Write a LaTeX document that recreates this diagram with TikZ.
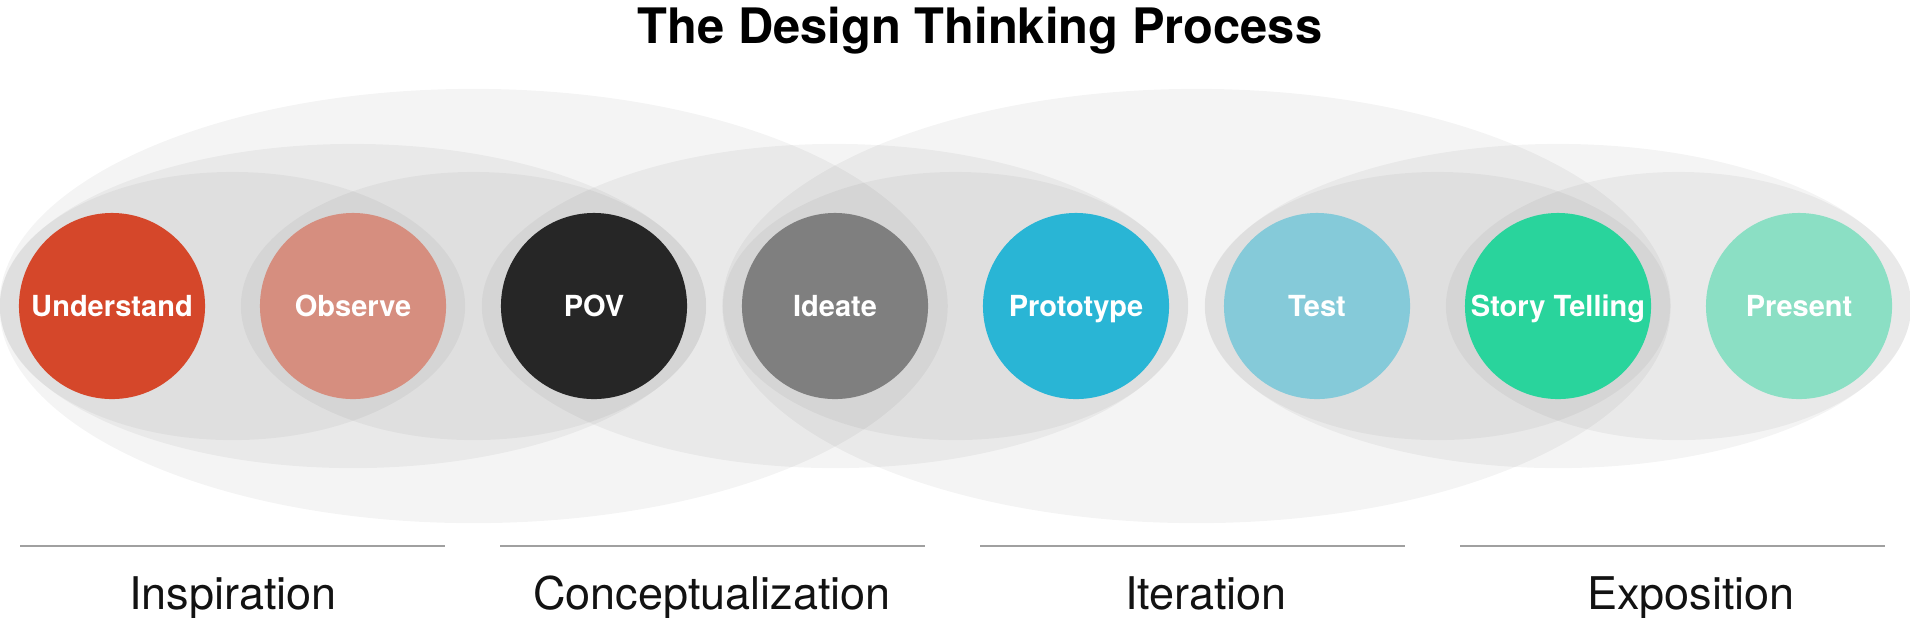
\documentclass[tikz,border=0pt]{standalone}
\usepackage{fontspec}
\setmainfont{TeX Gyre Heros}
\usepackage{tikz}
\usetikzlibrary{positioning}
\definecolor{understand}{HTML}{D5472A}
\definecolor{observe}{HTML}{D68E7F}
\definecolor{pov}{HTML}{262626}
\definecolor{ideate}{HTML}{7F7F7F}
\definecolor{prototype}{HTML}{29B5D5}
\definecolor{test}{HTML}{85CAD9}
\definecolor{story}{HTML}{29D49C}
\definecolor{present}{HTML}{8BDFC4}
\definecolor{rulegray}{HTML}{A0A0A0}
\tikzstyle{place}=[circle, minimum size = 1.86cm, inner sep=0pt, text=white, text height=6pt, text depth=0pt, font=\fontsize{8.25}{10}\selectfont\bfseries]
\tikzstyle{halo}=[fill=black, fill opacity=0.045]
\tikzstyle{phase}=[anchor=base, text=black!93, font=\fontsize{12.8}{15}\selectfont]

\begin{document}
\begin{tikzpicture}[x=0.01cm, y=-0.01cm]
        \useasboundingbox (0,0) rectangle (1910,617);

        % Title
        \node at (980, 43) [anchor=base, font=\fontsize{13.9}{16}\selectfont\bfseries] (title) {The Design Thinking Process};

        % Outer shells
        \foreach \c in {1.5,4.5}
          \fill [halo] (112+241*\c, 306) ellipse (4.74cm and 2.17cm);

        % Middle shells
        \foreach \c in {1,3,6}
          \fill [halo] (112+241*\c, 306) ellipse (3.53cm and 1.62cm);

        % Inner shells
        \foreach \c in {0.5,1.5,3.5,5.5,6.5}
          \fill [halo] (112+241*\c, 306) ellipse (2.325cm and 1.34cm);

        % Steps
        \foreach \name/\txt [count=\i from 0] in {understand/Understand, observe/Observe, pov/POV, ideate/Ideate, prototype/Prototype, test/Test, story/Story Telling, present/Present}
          \node at (112+241*\i, 306) [place, fill=\name] (\name) {\txt};

        % Phases
        \foreach \lbl/\cx [count=\i from 0] in {Inspiration/233, Conceptualization/712, Iteration/1206, Exposition/1691} {
          \coordinate (rule_\i_a) at (20+480*\i, 546);
          \coordinate (rule_\i_b) at (445+480*\i, 546);
          \draw [rulegray, line width=0.6pt] (rule_\i_a) -- (rule_\i_b);
          \node at (\cx, 609) [phase] (phase_\i) {\lbl};
        }
      \end{tikzpicture}
\end{document}
